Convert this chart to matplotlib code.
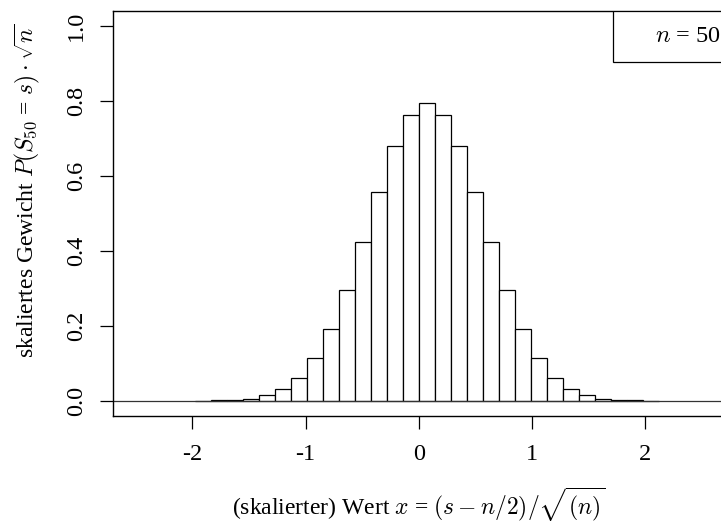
import numpy as np
import matplotlib
matplotlib.use('Agg')
import matplotlib.pyplot as plt
from matplotlib.patches import Rectangle

# Binomial n = 50, scaled weights
n = 50
s_values = list(range(11, 40))
weights = [0.0002, 0.0008, 0.0022, 0.0059, 0.0141, 0.0309, 0.0618, 0.1134,
           0.1910, 0.2960, 0.4228, 0.5574, 0.6786, 0.7634, 0.7939, 0.7634,
           0.6786, 0.5574, 0.4228, 0.2960, 0.1910, 0.1134, 0.0618, 0.0309,
           0.0141, 0.0059, 0.0022, 0.0008, 0.0002]
x_ticks = [-2, -1, 0, 1, 2]
y_ticks = [0.0, 0.2, 0.4, 0.6, 0.8, 1.0]

plt.rcParams['font.family'] = ['Liberation Serif', 'DejaVu Serif']
plt.rcParams['mathtext.fontset'] = 'cm'

fig = plt.figure(figsize=(7.21, 5.29), dpi=100)
ax = fig.add_axes([113 / 721, 113.3 / 529, 611.8 / 721, 404.7 / 529])

left = (np.array(s_values) - n / 2) / np.sqrt(n)
ax.bar(left, weights, width=1 / np.sqrt(n), align='edge',
       facecolor='white', edgecolor='black', linewidth=0.9)
ax.axhline(0, color='#333333', linewidth=0.9)

ax.set_xlim(-2.7, 2.7)
ax.set_ylim(-0.04, 1.04)
ax.set_xticks(x_ticks)
ax.set_xticklabels([str(v) for v in x_ticks])
ax.set_yticks(y_ticks)
ax.set_yticklabels(['%.1f' % v for v in y_ticks])
ax.tick_params(axis='both', direction='out', length=9.5, width=0.9,
               labelsize=17.5, pad=11)
ax.tick_params(axis='y', pad=9)
for lab in ax.get_yticklabels():
    lab.set_rotation(90)
    lab.set_va('center')
    lab.set_ha('right')
for sp in ax.spines.values():
    sp.set_linewidth(1.0)

# legend box in the top right corner
ax.add_patch(Rectangle((1 - 112 / 611.8, 1 - 50.7 / 404.7), 112 / 611.8, 50.7 / 404.7,
                       transform=ax.transAxes, facecolor='white',
                       edgecolor='black', linewidth=0.9, zorder=5))
ax.text(1 - 4 / 611.8, 1 - 25 / 404.7, r'$n$ = 50', transform=ax.transAxes,
        ha='right', va='center', fontsize=17.5, zorder=6)

fig.text(27 / 721, 1 - 191 / 529, r'skaliertes Gewicht $P(S_{50}$ = $s)\cdot\sqrt{n}$',
         rotation=90, ha='center', va='center', fontsize=17)
fig.text(418.5 / 721, 1 - 505 / 529, r'(skalierter) Wert $x$ = $(s-n/2)/\sqrt{(n)}$',
         ha='center', va='center', fontsize=17)

fig.savefig('out.png', dpi=100)
